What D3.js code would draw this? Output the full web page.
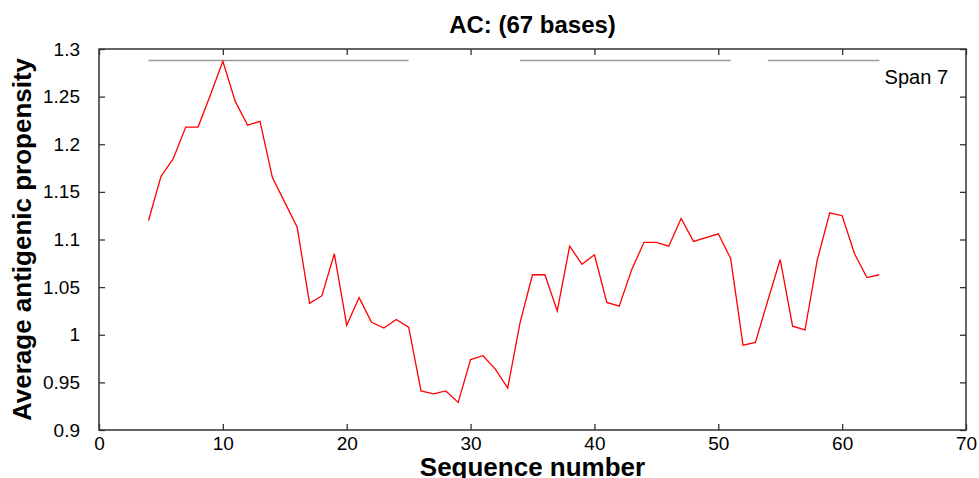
<!DOCTYPE html>
<html>
<head>
<meta charset="utf-8">
<script src="https://cdn.jsdelivr.net/npm/d3@7"></script>
<style>
  body { margin: 0; background: #fff; }
  svg { font-family: "Liberation Sans", Arial, sans-serif; }
</style>
</head>
<body>
<svg id="chart" width="979" height="478"></svg>
<script>
// sequence positions and averaged propensity (window 7)
var positions = d3.range(4, 64);
var propensity = [
  1.120, 1.166, 1.185, 1.218, 1.218, 1.252, 1.287, 1.245, 1.220, 1.224,
  1.165, 1.139, 1.113, 1.033, 1.041, 1.085, 1.010, 1.039, 1.013, 1.007,
  1.016, 1.008, 0.941, 0.938, 0.941, 0.929, 0.974, 0.978, 0.964, 0.944,
  1.013, 1.063, 1.063, 1.025, 1.093, 1.074, 1.084, 1.034, 1.030, 1.068,
  1.097, 1.097, 1.093, 1.122, 1.098, 1.102, 1.106, 1.080, 0.989, 0.992,
  1.036, 1.079, 1.009, 1.005, 1.079, 1.128, 1.125, 1.085, 1.060, 1.063
];
// regions above threshold drawn as grey bars on top
var spans = [[4, 25], [34, 51], [54, 63]];
var spanLevel = 1.288;
var xTicks = [0, 10, 20, 30, 40, 50, 60, 70];
var yTicks = [0.9, 0.95, 1, 1.05, 1.1, 1.15, 1.2, 1.25, 1.3];

var margin = {top: 49, right: 13, bottom: 48, left: 99};
var width = 979, height = 478;
var svg = d3.select("#chart");

var x = d3.scaleLinear().domain([0, 70]).range([margin.left, width - margin.right]);
var y = d3.scaleLinear().domain([0.9, 1.3]).range([height - margin.bottom, margin.top]);

var axisColor = "#333";

// inner ticks on all four sides
function styleAxis(g) {
  g.select(".domain").remove();
  g.selectAll(".tick line").attr("stroke", axisColor).attr("stroke-width", 1.3);
  g.selectAll(".tick text").attr("fill", "#000").style("font-size", "19px");
}

svg.append("g")
  .attr("transform", "translate(0," + y(0.9) + ")")
  .call(d3.axisBottom(x).tickValues(xTicks).tickSize(-6).tickPadding(7).tickFormat(d3.format("d")))
  .call(styleAxis);

svg.append("g")
  .attr("transform", "translate(0," + y(1.3) + ")")
  .call(d3.axisTop(x).tickValues(xTicks).tickSize(-6).tickFormat(""))
  .call(styleAxis);

svg.append("g")
  .attr("transform", "translate(" + x(0) + ",0)")
  .call(d3.axisLeft(y).tickValues(yTicks).tickSize(-6).tickPadding(19).tickFormat(d3.format("")))
  .call(styleAxis);

svg.append("g")
  .attr("transform", "translate(" + x(70) + ",0)")
  .call(d3.axisRight(y).tickValues(yTicks).tickSize(-6).tickFormat(""))
  .call(styleAxis);

// frame
svg.append("rect")
  .attr("x", x(0)).attr("y", y(1.3))
  .attr("width", x(70) - x(0)).attr("height", y(0.9) - y(1.3))
  .attr("fill", "none").attr("stroke", axisColor).attr("stroke-width", 1.5);

// spans
svg.selectAll(".span")
  .data(spans)
  .enter().append("line")
  .attr("class", "span")
  .attr("x1", function (d) { return x(d[0]); })
  .attr("x2", function (d) { return x(d[1]); })
  .attr("y1", y(spanLevel)).attr("y2", y(spanLevel))
  .attr("stroke", "#9a9a9a").attr("stroke-width", 1.5);

// propensity line
var line = d3.line()
  .x(function (d, i) { return x(positions[i]); })
  .y(function (d) { return y(d); });

svg.append("path")
  .datum(propensity)
  .attr("d", line)
  .attr("fill", "none")
  .attr("stroke", "#ff0000")
  .attr("stroke-width", 1.3);

svg.append("text")
  .attr("x", 948).attr("y", 84)
  .attr("text-anchor", "end")
  .style("font-size", "20px")
  .text("Span 7");

// titles
svg.append("text")
  .attr("x", (x(0) + x(70)) / 2).attr("y", 33)
  .attr("text-anchor", "middle")
  .style("font-size", "24px").style("font-weight", "bold")
  .text("AC: (67 bases)");

svg.append("text")
  .attr("x", (x(0) + x(70)) / 2).attr("y", 476)
  .attr("text-anchor", "middle")
  .style("font-size", "26px").style("font-weight", "bold")
  .text("Sequence number");

svg.append("text")
  .attr("transform", "translate(31," + (y(0.9) + y(1.3)) / 2 + ") rotate(-90)")
  .attr("text-anchor", "middle")
  .style("font-size", "26px").style("font-weight", "bold")
  .text("Average antigenic propensity");
</script>
</body>
</html>
